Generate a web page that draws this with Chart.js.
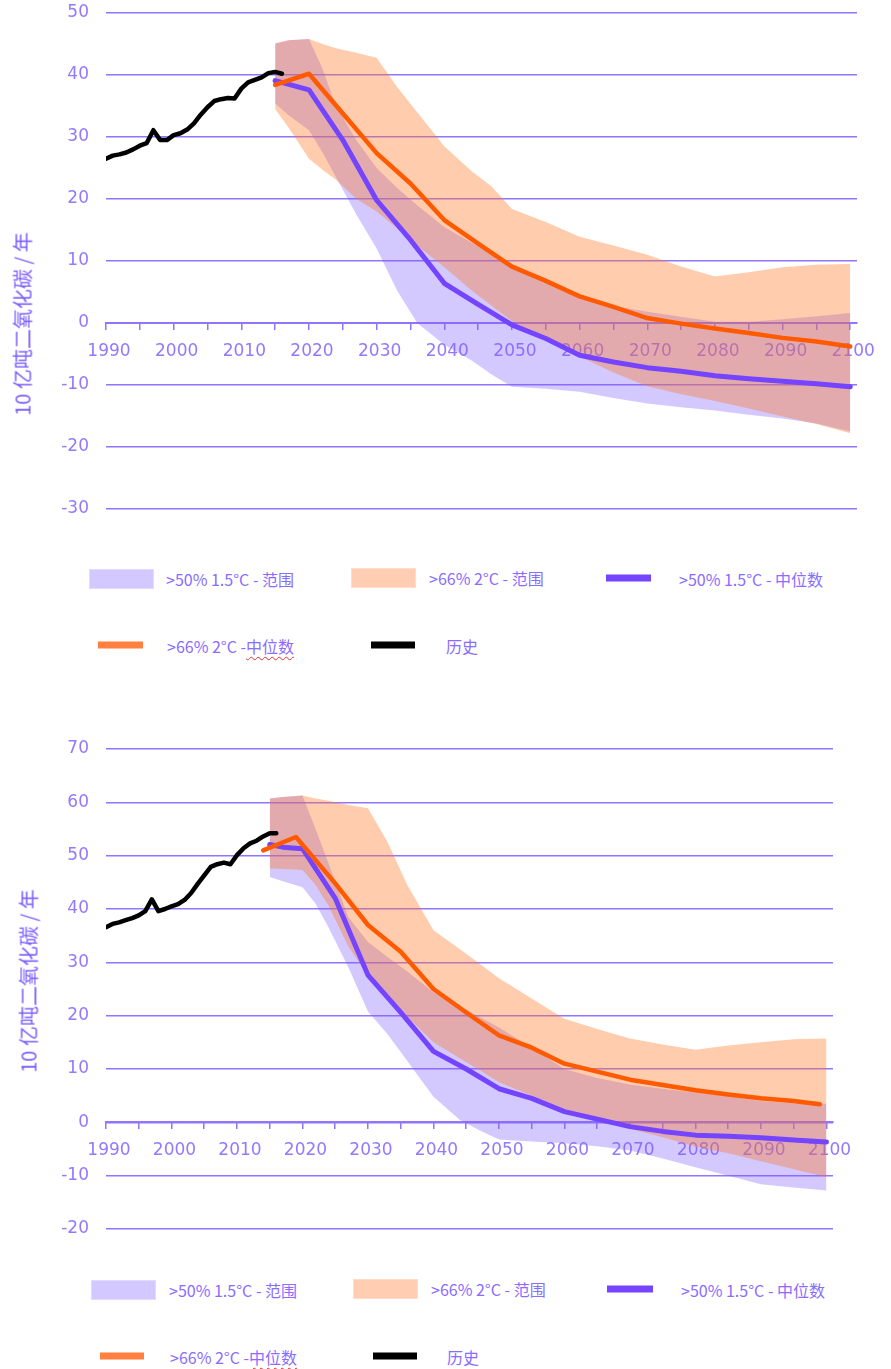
<!DOCTYPE html>
<html lang="zh">

<head>
  <meta charset="UTF-8" />
  <meta name="viewport" content="width=device-width, initial-scale=1" />
  <title>排放路径</title>
  <script src="https://cdn.jsdelivr.net/npm/chart.js"></script>
  <style>
    body {
      margin: 0;
      background: #fff;
      width: 891px;
      height: 1369px;
      position: relative;
      overflow: hidden;
      font-family: 'Noto Sans CJK SC', sans-serif;
    }

    .grafico {
      position: absolute;
      left: 0;
      width: 891px;
    }

    #caixa1 { top: 0; height: 530px; }
    #caixa2 { top: 730px; height: 520px; }

    .titulo-eixo {
      position: absolute;
      color: #7c5cff;
      font-size: 20px;
      white-space: nowrap;
      transform: translate(-50%, -50%) rotate(-90deg);
    }

    .leg-caixa {
      position: absolute;
      width: 63px;
      height: 18px;
      transform: translateY(-50%);
    }

    .leg-linha {
      position: absolute;
      height: 7px;
      transform: translateY(-50%);
    }

    .leg-texto {
      position: absolute;
      color: #8a6cff;
      font-size: 16px;
      line-height: 20px;
      white-space: nowrap;
      transform: translateY(-50%);
    }

    .erro {
      text-decoration: underline wavy #e03030;
      text-decoration-thickness: 1px;
      text-underline-offset: 3px;
    }
  </style>
</head>

<body>

  <div id="caixa1" class="grafico"><canvas id="grafico1"></canvas></div>
  <div class="titulo-eixo" style="left:22px; top:324px;">10 亿吨二氧化碳 / 年</div>

  <div class="leg-caixa" style="left:89px; top:579px; background:#d3c8ff; border:1px solid #e2dbff;"></div>
  <div class="leg-texto" style="left:166px; top:579px;">&gt;50% 1.5°C - 范围</div>
  <div class="leg-caixa" style="left:351px; top:578px; background:#ffcdb1; border:1px solid #ffdcc8;"></div>
  <div class="leg-texto" style="left:429px; top:578px;">&gt;66% 2°C - 范围</div>
  <div class="leg-linha" style="left:606px; top:578px; width:45px; background:#7444ff;"></div>
  <div class="leg-texto" style="left:679px; top:579px;">&gt;50% 1.5°C - 中位数</div>
  <div class="leg-linha" style="left:98px; top:645px; width:45px; background:#ff8040;"></div>
  <div class="leg-texto" style="left:167px; top:646px;">&gt;66% 2°C -<span class="erro">中位数</span></div>
  <div class="leg-linha" style="left:371px; top:645px; width:44px; background:#000;"></div>
  <div class="leg-texto" style="left:446px; top:646px;">历史</div>

  <div id="caixa2" class="grafico"><canvas id="grafico2"></canvas></div>
  <div class="titulo-eixo" style="left:28px; top:981px;">10 亿吨二氧化碳 / 年</div>

  <div class="leg-caixa" style="left:91px; top:1290px; background:#d3c8ff; border:1px solid #e2dbff;"></div>
  <div class="leg-texto" style="left:169px; top:1290px;">&gt;50% 1.5°C - 范围</div>
  <div class="leg-caixa" style="left:353px; top:1289px; background:#ffcdb1; border:1px solid #ffdcc8;"></div>
  <div class="leg-texto" style="left:431px; top:1289px;">&gt;66% 2°C - 范围</div>
  <div class="leg-linha" style="left:607px; top:1289px; width:46px; background:#7444ff;"></div>
  <div class="leg-texto" style="left:681px; top:1290px;">&gt;50% 1.5°C - 中位数</div>
  <div class="leg-linha" style="left:100px; top:1356px; width:44px; background:#ff8040;"></div>
  <div class="leg-texto" style="left:170px; top:1357px;">&gt;66% 2°C -<span class="erro">中位数</span></div>
  <div class="leg-linha" style="left:373px; top:1356px; width:44px; background:#000;"></div>
  <div class="leg-texto" style="left:447px; top:1357px;">历史</div>

  <script>
    // historico (igual nos dois graficos)
    const histYears = [1990, 1991, 1992, 1993, 1994, 1995, 1996, 1997, 1998, 1999, 2000, 2001, 2002, 2003,
      2004, 2005, 2006, 2007, 2008, 2009, 2010, 2011, 2012, 2013, 2014, 2015, 2016];
    const hist1 = [26.5, 27.0, 27.2, 27.5, 28.0, 28.6, 29.0, 31.1, 29.5, 29.5, 30.3, 30.6, 31.2, 32.2,
      33.6, 34.8, 35.8, 36.1, 36.3, 36.2, 37.8, 38.8, 39.2, 39.6, 40.3, 40.5, 40.2];
    const hist2 = [36.6, 37.2, 37.5, 37.9, 38.3, 38.8, 39.6, 41.8, 39.6, 40.0, 40.5, 40.9, 41.7, 43.0,
      44.7, 46.3, 47.9, 48.4, 48.7, 48.4, 50.1, 51.4, 52.3, 52.8, 53.6, 54.2, 54.2];

    // anos das faixas (ranges)
    const bandYears = [2015, 2017, 2020, 2022, 2024, 2027, 2030, 2033, 2036, 2040, 2044, 2047, 2050,
      2055, 2060, 2065, 2070, 2075, 2080, 2085, 2090, 2095, 2100];

    // grafico 1
    const hi15_1 = [45.1, 45.6, 45.8, 41.0, 35.0, 29.5, 25.0, 21.8, 19.0, 15.5, 13.0, 11.2, 9.5,
      6.8, 4.5, 2.8, 1.8, 1.0, 0.2, 0.2, 0.6, 1.1, 1.6];
    const lo15_1 = [35.4, 33.5, 31.1, 27.5, 23.5, 17.5, 12.0, 5.3, 0.0, -3.5, -6.0, -8.3, -10.3,
      -10.6, -11.1, -12.1, -13.0, -13.6, -14.1, -14.8, -15.4, -16.2, -17.5];
    const hi2_1 = [45.1, 45.6, 45.8, 45.0, 44.3, 43.6, 42.8, 38.1, 34.0, 28.5, 24.5, 22.0, 18.4,
      16.3, 13.9, 12.5, 11.0, 9.1, 7.5, 8.2, 9.0, 9.4, 9.5];
    const lo2_1 = [34.5, 31.5, 26.5, 24.7, 23.1, 20.0, 18.0, 15.3, 12.5, 9.0, 5.3, 2.8, 0.3,
      -2.5, -5.4, -8.0, -10.2, -11.5, -12.6, -13.8, -15.1, -16.3, -17.8];
    const medYears_1 = [2015, 2020, 2025, 2030, 2035, 2040, 2045, 2050, 2055, 2060, 2065, 2070,
      2075, 2080, 2085, 2090, 2095, 2100];
    const med15_1 = [39.1, 37.6, 29.5, 19.8, 13.4, 6.4, 3.0, -0.3, -2.5, -5.2, -6.3, -7.2,
      -7.8, -8.5, -9.0, -9.4, -9.8, -10.3];
    const med2_1 = [38.4, 40.2, 33.8, 27.4, 22.5, 16.6, 12.8, 9.1, 6.8, 4.3, 2.6, 0.8,
      -0.1, -0.9, -1.6, -2.4, -3.0, -3.8];

    // grafico 2
    const hi15_2 = [60.7, 61.0, 61.3, 55.0, 48.5, 38.5, 33.8, 31.0, 28.3, 24.4, 21.8, 19.8, 17.8,
      14.0, 10.0, 8.3, 7.1, 6.3, 5.6, 4.9, 4.0, 3.6, 3.5];
    const lo15_2 = [46.0, 45.2, 44.1, 41.0, 36.5, 29.1, 20.8, 16.5, 11.5, 4.8, 0.5, -1.5, -3.2,
      -3.6, -3.9, -4.5, -5.3, -6.8, -8.4, -10.0, -11.6, -12.2, -12.8];
    const hi2_2 = [60.7, 61.0, 61.3, 60.7, 60.3, 59.5, 58.9, 52.5, 44.5, 36.0, 32.5, 29.8, 27.0,
      23.2, 19.4, 17.5, 15.7, 14.6, 13.6, 14.4, 15.0, 15.6, 15.7];
    const lo2_2 = [47.6, 47.5, 47.3, 44.5, 40.5, 33.0, 27.5, 23.5, 19.8, 15.0, 12.0, 9.8, 7.5,
      5.0, 2.5, 0.6, -1.2, -2.8, -4.6, -5.8, -7.3, -8.8, -10.3];
    const med15Years_2 = [2015, 2017, 2020, 2025, 2030, 2035, 2040, 2045, 2050, 2055, 2060, 2065,
      2070, 2075, 2080, 2085, 2090, 2095, 2100];
    const med15_2 = [52.1, 51.6, 51.3, 42.0, 27.6, 20.6, 13.3, 10.0, 6.3, 4.5, 2.0, 0.6,
      -0.8, -1.7, -2.4, -2.6, -2.9, -3.3, -3.7];
    const med2Years_2 = [2014, 2019, 2025, 2030, 2035, 2040, 2045, 2050, 2055, 2060, 2065, 2070,
      2075, 2080, 2085, 2090, 2095, 2099];
    const med2_2 = [51.0, 53.5, 44.8, 37.0, 32.0, 25.0, 20.6, 16.3, 14.0, 11.0, 9.5, 8.0,
      7.0, 6.0, 5.2, 4.5, 4.0, 3.4];

    const corGrade = '#9275ff';
    const corTexto = '#9479ff';
    const fonteEixo = { family: "'DejaVu Sans', sans-serif", size: 17 };

    function pts(xs, ys) {
      return xs.map((x, i) => ({ x: x, y: ys[i] }));
    }

    const banda = { borderColor: 'rgba(0,0,0,0)', borderWidth: 0 };

    function criarGrafico(id, d) {
      const ctx = document.getElementById(id).getContext('2d');
      return new Chart(ctx, {
        type: 'line',
        data: {
          datasets: [
            { label: '历史', data: pts(histYears, d.hist), borderColor: '#000', borderWidth: 4.5, order: 0 },
            { label: '>66% 2°C -中位数', data: pts(d.med2Years, d.med2), borderColor: '#ff5a00', borderWidth: 4.5, order: 1 },
            { label: '>50% 1.5°C - 中位数', data: pts(d.med15Years, d.med15), borderColor: '#7444ff', borderWidth: 5, order: 2 },
            { label: '>66% 2°C - 范围', data: pts(bandYears, d.hi2), fill: '+1', backgroundColor: 'rgba(255,120,40,0.38)', order: 3, ...banda },
            { label: 'lo2', data: pts(bandYears, d.lo2), order: 4, ...banda },
            { label: '>50% 1.5°C - 范围', data: pts(bandYears, d.hi15), fill: '+1', backgroundColor: 'rgba(120,90,255,0.33)', order: 5, ...banda },
            { label: 'lo15', data: pts(bandYears, d.lo15), order: 6, ...banda }
          ]
        },
        options: {
          responsive: true,
          maintainAspectRatio: false,
          animation: false,
          layout: { padding: d.padding },
          elements: {
            point: { radius: 0, hoverRadius: 0 },
            line: { tension: 0, fill: false, borderCapStyle: 'round', borderJoinStyle: 'round' }
          },
          plugins: {
            legend: { display: false },
            tooltip: { enabled: false }
          },
          scales: {
            x: {
              type: 'linear',
              min: 1990,
              max: 2101,
              position: { y: 0 },
              border: { display: true, color: corGrade, width: 2 },
              grid: { drawOnChartArea: false, drawTicks: true, tickLength: 6, color: corGrade, lineWidth: 1.5 },
              ticks: {
                stepSize: 5,
                includeBounds: false,
                autoSkip: false,
                maxRotation: 0,
                padding: 12,
                labelOffset: 3,
                color: corTexto,
                font: fonteEixo,
                callback: v => (v % 10 === 0 ? String(v) : '')
              }
            },
            y: {
              min: d.yMin,
              max: d.yMax,
              border: { display: false },
              // marcas invisiveis só para afastar os rótulos do eixo
              grid: { color: corGrade, lineWidth: 1.5, drawTicks: true, tickLength: 17, tickColor: 'rgba(0,0,0,0)' },
              ticks: { stepSize: 10, padding: 0, color: corTexto, font: fonteEixo },
              afterFit: s => { s.width = 106; }
            }
          }
        }
      });
    }

    criarGrafico('grafico1', {
      hist: hist1, hi15: hi15_1, lo15: lo15_1, hi2: hi2_1, lo2: lo2_1,
      med15Years: medYears_1, med15: med15_1, med2Years: medYears_1, med2: med2_1,
      yMin: -30, yMax: 50,
      padding: { top: 13, right: 34, bottom: 21, left: 0 }
    });

    criarGrafico('grafico2', {
      hist: hist2, hi15: hi15_2, lo15: lo15_2, hi2: hi2_2, lo2: lo2_2,
      med15Years: med15Years_2, med15: med15_2, med2Years: med2Years_2, med2: med2_2,
      yMin: -20, yMax: 70,
      padding: { top: 19, right: 58, bottom: 21, left: 0 }
    });
  </script>

</body>

</html>
